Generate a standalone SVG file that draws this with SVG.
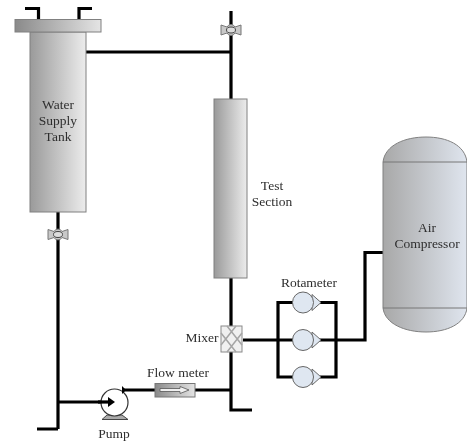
<svg xmlns="http://www.w3.org/2000/svg" width="467" height="441" viewBox="0 0 467 441">
<style>
text{font-family:"Liberation Serif","Times New Roman",serif;font-size:13.500px;fill:#2e2e2e;text-anchor:middle}
.p{fill:none;stroke:#000;stroke-width:3.200;stroke-linejoin:miter}
.s{stroke:#808080;stroke-width:1}
.v{fill:#c8c8c8;stroke:#777;stroke-width:1}
.r{fill:#dfe7f1;stroke:#666;stroke-width:1}
</style>
<defs>
<filter id="soft" x="-2%" y="-2%" width="104%" height="104%"><feGaussianBlur stdDeviation="0.350"/></filter>
<linearGradient id="g1"><stop offset="0" stop-color="#9a9a9a"/><stop offset="1" stop-color="#ececec"/></linearGradient>
<linearGradient id="g2"><stop offset="0" stop-color="#a8a8a8"/><stop offset="1" stop-color="#dfe5ee"/></linearGradient>
<linearGradient id="g3"><stop offset="0" stop-color="#8a8a8a"/><stop offset="1" stop-color="#e4e4e4"/></linearGradient>
<linearGradient id="g4" x2="0" y2="1"><stop offset="0" stop-color="#a5a5a5"/><stop offset="1" stop-color="#d8d8d8"/></linearGradient>
<symbol id="valve" overflow="visible"><path class="v" d="M-10,-5L-4,-3A4.500,4.500 0 0 1 4,-3L10,-5V5L4,3A4.500,4.500 0 0 1 -4,3L-10,5Z"/><ellipse cx="0" cy="0" rx="4.500" ry="3" fill="#ddd" stroke="#444"/></symbol>
<symbol id="rota" overflow="visible"><path class="r" d="M9,-8L18,0L9,8Z"/><circle class="r" cx="0" cy="0" r="10.500"/></symbol>
</defs>
<g filter="url(#soft)">
<g id="connectors">
<path class="p" d="M25,8.500H38.500V20"/>
<path class="p" d="M92,8.500H79V20"/>
<path class="p" d="M86,52H231M231,11V99"/>
<path class="p" d="M58,212V429M37,429H58M58,402H112"/>
<path class="p" d="M123,390H155M195,390H231M231,352V410H252"/>
<path class="p" d="M231,278V326"/>
<path class="p" d="M243,340H365V252.500H384"/>
<path class="p" d="M293,302.500H278V377H293M320,302.500H336V377H320"/>
</g>
<g id="water-tank">
<rect x="30" y="32" width="56" height="180" fill="url(#g1)" class="s"/>
<rect x="15" y="19.500" width="86" height="12.500" fill="url(#g3)" class="s"/>
<text x="58" y="109">Water</text><text x="58" y="125">Supply</text><text x="58" y="141">Tank</text>
</g>
<g id="valve-top"><use href="#valve" x="231" y="30"/></g>
<g id="valve-left"><use href="#valve" x="58" y="234.500"/></g>
<g id="test-section">
<rect x="214" y="99" width="33" height="179" fill="url(#g1)" class="s"/>
<text x="272" y="190">Test</text><text x="272" y="206">Section</text>
</g>
<g id="air-compressor">
<path d="M383,162C385,145 405,137 426,137C447,137 465,145 467,162V308C465,324 447,332 426,332C405,332 385,324 383,308Z" fill="url(#g2)" class="s"/>
<path d="M383,162H467M383,308H467" fill="none" stroke="#777" stroke-width="1"/>
<text x="427" y="232">Air</text><text x="427" y="248">Compressor</text>
</g>
<g id="mixer">
<rect x="221" y="326" width="21" height="26" fill="#f0f0f0" stroke="#8a8a8a"/>
<path d="M221,333L236,352M221,345L236,326M242,333L227,352M242,345L227,326" fill="none" stroke="#a5a5a5" stroke-width="1.500"/>
<text x="202" y="342">Mixer</text>
</g>
<g id="rotameter-1"><use href="#rota" x="303" y="302.500"/></g>
<g id="rotameter-2"><use href="#rota" x="303" y="340"/></g>
<g id="rotameter-3"><use href="#rota" x="303" y="377"/></g>
<text x="309" y="287">Rotameter</text>
<g id="flow-meter">
<rect x="155" y="383.500" width="40" height="13.500" fill="url(#g3)" stroke="#777"/>
<path d="M160,388.500H180V386.500L189,390L180,393.500V391.500H160Z" fill="#f0f0f0" stroke="#555" stroke-width=".8"/>
<text x="178" y="377">Flow meter</text>
</g>
<g id="pump">
<path d="M102,419.500L107,415H122L128,419.500Z" fill="#aaa" stroke="#444"/>
<circle cx="114.500" cy="402.500" r="13.500" fill="#fff" stroke="#333" stroke-width="1.200"/>
<path d="M98,402H110" stroke="#000" stroke-width="3.200" fill="none"/>
<path d="M108,397L115,402L108,407Z" fill="#000"/>
<path d="M122,386V394L126,390Z" fill="#000"/>
<text x="114" y="437.500">Pump</text>
</g>
</g>
</svg>
